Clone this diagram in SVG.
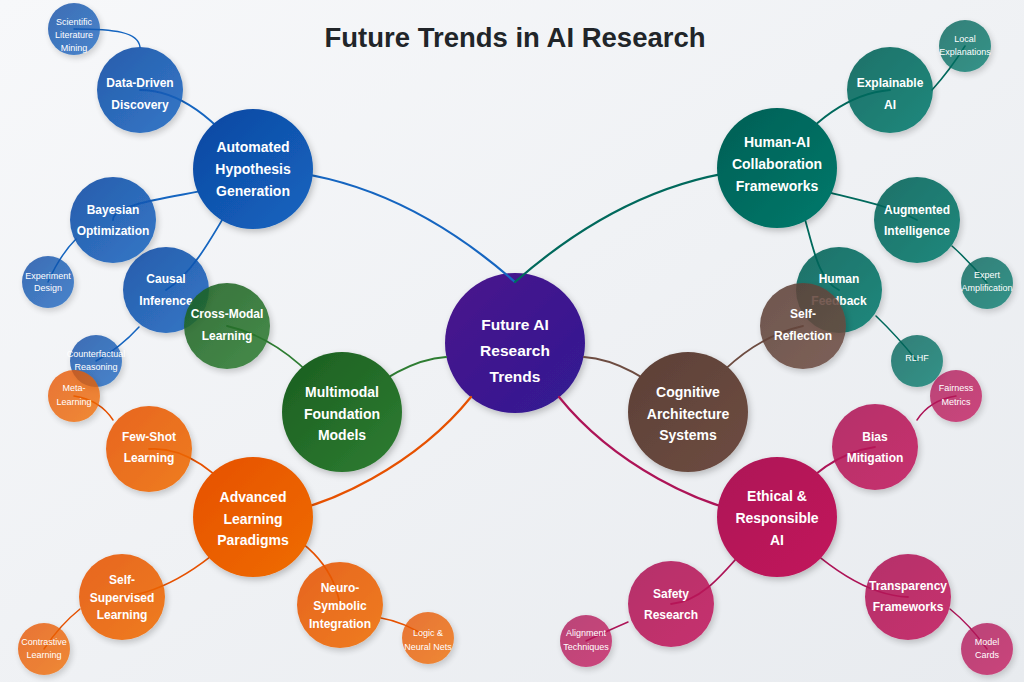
<svg xmlns="http://www.w3.org/2000/svg" width="1024" height="682" viewBox="0 0 1024 682">
<defs>
<linearGradient id="bg" x1="0" y1="0" x2="1" y2="1"><stop offset="0" stop-color="#f7f8fa"/><stop offset="1" stop-color="#e8ebef"/></linearGradient>
<linearGradient id="gPurple" x1="0" y1="0" x2="1" y2="1"><stop offset="0" stop-color="#4A148C"/><stop offset="1" stop-color="#311B92"/></linearGradient>
<linearGradient id="gBlue" x1="0" y1="0" x2="1" y2="1"><stop offset="0" stop-color="#0D47A1"/><stop offset="1" stop-color="#1565C0"/></linearGradient>
<linearGradient id="gTeal" x1="0" y1="0" x2="1" y2="1"><stop offset="0" stop-color="#005f55"/><stop offset="1" stop-color="#00796B"/></linearGradient>
<linearGradient id="gGreen" x1="0" y1="0" x2="1" y2="1"><stop offset="0" stop-color="#1B5E20"/><stop offset="1" stop-color="#2E7D32"/></linearGradient>
<linearGradient id="gBrown" x1="0" y1="0" x2="1" y2="1"><stop offset="0" stop-color="#5D4037"/><stop offset="1" stop-color="#6D4C41"/></linearGradient>
<linearGradient id="gOrange" x1="0" y1="0" x2="1" y2="1"><stop offset="0" stop-color="#E65100"/><stop offset="1" stop-color="#EF6C00"/></linearGradient>
<linearGradient id="gMagenta" x1="0" y1="0" x2="1" y2="1"><stop offset="0" stop-color="#AD1457"/><stop offset="1" stop-color="#C2185B"/></linearGradient>
<filter id="sh" x="-30%" y="-30%" width="160%" height="160%"><feDropShadow dx="2" dy="3" stdDeviation="3" flood-color="#000" flood-opacity="0.22"/></filter>
</defs>
<style>
text{font-family:"Liberation Sans",Arial,Helvetica,sans-serif;text-anchor:middle;fill:#fff}
.title{font-size:27.5px;font-weight:bold;fill:#212529}
.tc{font-size:15.5px;font-weight:bold}
.tm{font-size:14px;font-weight:bold}
.ts{font-size:12px;font-weight:bold}
.tl{font-size:9px}
circle{filter:url(#sh)}
.sub{opacity:0.87}
.leaf{opacity:0.78}
#links path{fill:none;stroke-linecap:round}
.lm{stroke-width:2.2}
.ls{stroke-width:1.8}
.ll{stroke-width:1.5}
.cb{stroke:#1565C0}.ct{stroke:#00695C}.cg{stroke:#2E7D32}.cbr{stroke:#6D4C41}.co{stroke:#E65100}.cm{stroke:#AD1457}
</style>
<rect width="1024" height="682" fill="url(#bg)"/>
<text class="title" x="515" y="47">Future Trends in AI Research</text>

<g id="n-center"><circle cx="515" cy="343" r="70" fill="url(#gPurple)"/><text class="tc"><tspan x="515" y="330">Future AI</tspan><tspan x="515" y="356">Research</tspan><tspan x="515" y="382">Trends</tspan></text></g>

<g id="links">
<path class="lm cb" d="M515,282 Q390,172 253,169"/>
<path class="lm ct" d="M515,282 Q640,172 777,168"/>
<path class="lm cg" d="M446,357 Q400,360 342,412"/>
<path class="lm cbr" d="M584,357 Q630,360 688,412"/>
<path class="lm co" d="M471,397 C420,460 330,512 253,517"/>
<path class="lm cm" d="M559,397 C610,460 700,512 777,517"/>
<path class="ls cb" d="M253,169 Q196.5,90 140,90"/>
<path class="ls cb" d="M253,169 C253,194.5 113,194.5 113,220"/>
<path class="ls cb" d="M253,169 C225,210 200,270 166,290"/>
<path class="ls cg" d="M342,412 Q290,340 227,326"/>
<path class="ls co" d="M253,517 Q200,445 149,449"/>
<path class="ls co" d="M253,517 Q185,590 122,597"/>
<path class="ls co" d="M253,517 Q330,545 340,605"/>
<path class="ls ct" d="M777,168 Q830,95 890,90"/>
<path class="ls ct" d="M777,168 C800,195 870,195 917,220"/>
<path class="ls ct" d="M777,168 C812,190 805,275 839,290"/>
<path class="ls cbr" d="M688,412 Q740,340 803,326"/>
<path class="ls cm" d="M777,517 Q820,455 875,447"/>
<path class="ls cm" d="M777,517 C740,545 715,600 671,604"/>
<path class="ls cm" d="M777,517 Q850,595 908,597"/>
<path class="ll cb" d="M140,47 C138,32 115,29 74,29"/>
<path class="ll cb" d="M76,239 Q60,255 48,282"/>
<path class="ll cb" d="M139,327 Q120,348 96,361"/>
<path class="ll co" d="M113,420 Q100,400 74,396"/>
<path class="ll co" d="M80,609 Q60,625 44,649"/>
<path class="ll co" d="M381,618 Q405,622 428,638"/>
<path class="ll ct" d="M932,90 Q950,70 965,46"/>
<path class="ll ct" d="M952,246 Q970,262 987,283"/>
<path class="ll ct" d="M876,316 Q897,336 917,361"/>
<path class="ll cm" d="M917,420 Q930,400 956,396"/>
<path class="ll cm" d="M628,622 Q605,632 586,641"/>
<path class="ll cm" d="M950,609 Q970,625 987,649"/>
</g>

<g id="n-automated"><circle cx="253" cy="169" r="60" fill="url(#gBlue)"/><text class="tm"><tspan x="253" y="152">Automated</tspan><tspan x="253" y="174">Hypothesis</tspan><tspan x="253" y="196">Generation</tspan></text></g>
<g id="n-humanai"><circle cx="777" cy="168" r="60" fill="url(#gTeal)"/><text class="tm"><tspan x="777" y="147">Human-AI</tspan><tspan x="777" y="169">Collaboration</tspan><tspan x="777" y="191">Frameworks</tspan></text></g>
<g id="n-multimodal"><circle cx="342" cy="412" r="60" fill="url(#gGreen)"/><text class="tm"><tspan x="342" y="397">Multimodal</tspan><tspan x="342" y="418.5">Foundation</tspan><tspan x="342" y="440">Models</tspan></text></g>
<g id="n-cognitive"><circle cx="688" cy="412" r="60" fill="url(#gBrown)"/><text class="tm"><tspan x="688" y="397">Cognitive</tspan><tspan x="688" y="418.5">Architecture</tspan><tspan x="688" y="440">Systems</tspan></text></g>
<g id="n-advanced"><circle cx="253" cy="517" r="60" fill="url(#gOrange)"/><text class="tm"><tspan x="253" y="502">Advanced</tspan><tspan x="253" y="523.5">Learning</tspan><tspan x="253" y="545">Paradigms</tspan></text></g>
<g id="n-ethical"><circle cx="777" cy="517" r="60" fill="url(#gMagenta)"/><text class="tm"><tspan x="777" y="501">Ethical &amp;</tspan><tspan x="777" y="523">Responsible</tspan><tspan x="777" y="544.5">AI</tspan></text></g>

<g id="n-datadriven"><circle class="sub" cx="140" cy="90" r="43" fill="url(#gBlue)"/><text class="ts"><tspan x="140" y="87">Data-Driven</tspan><tspan x="140" y="109">Discovery</tspan></text></g>
<g id="n-bayesian"><circle class="sub" cx="113" cy="220" r="43" fill="url(#gBlue)"/><text class="ts"><tspan x="113" y="213.5">Bayesian</tspan><tspan x="113" y="235">Optimization</tspan></text></g>
<g id="n-causal"><circle class="sub" cx="166" cy="290" r="43" fill="url(#gBlue)"/><text class="ts"><tspan x="166" y="283">Causal</tspan><tspan x="166" y="305">Inference</tspan></text></g>
<g id="n-explainable"><circle class="sub" cx="890" cy="90" r="43" fill="url(#gTeal)"/><text class="ts"><tspan x="890" y="87">Explainable</tspan><tspan x="890" y="108.5">AI</tspan></text></g>
<g id="n-augmented"><circle class="sub" cx="917" cy="220" r="43" fill="url(#gTeal)"/><text class="ts"><tspan x="917" y="213.5">Augmented</tspan><tspan x="917" y="235">Intelligence</tspan></text></g>
<g id="n-humanfeedback"><circle class="sub" cx="839" cy="290" r="43" fill="url(#gTeal)"/><text class="ts"><tspan x="839" y="283">Human</tspan><tspan x="839" y="305">Feedback</tspan></text></g>
<g id="n-crossmodal"><circle class="sub" cx="227" cy="326" r="43" fill="url(#gGreen)"/><text class="ts"><tspan x="227" y="318">Cross-Modal</tspan><tspan x="227" y="339.5">Learning</tspan></text></g>
<g id="n-selfreflection"><circle class="sub" cx="803" cy="326" r="43" fill="url(#gBrown)"/><text class="ts"><tspan x="803" y="318">Self-</tspan><tspan x="803" y="339.5">Reflection</tspan></text></g>
<g id="n-fewshot"><circle class="sub" cx="149" cy="449" r="43" fill="url(#gOrange)"/><text class="ts"><tspan x="149" y="440.7">Few-Shot</tspan><tspan x="149" y="461.7">Learning</tspan></text></g>
<g id="n-selfsupervised"><circle class="sub" cx="122" cy="597" r="43" fill="url(#gOrange)"/><text class="ts"><tspan x="122" y="584">Self-</tspan><tspan x="122" y="601.7">Supervised</tspan><tspan x="122" y="619">Learning</tspan></text></g>
<g id="n-neurosymbolic"><circle class="sub" cx="340" cy="605" r="43" fill="url(#gOrange)"/><text class="ts"><tspan x="340" y="592">Neuro-</tspan><tspan x="340" y="609.7">Symbolic</tspan><tspan x="340" y="627.5">Integration</tspan></text></g>
<g id="n-bias"><circle class="sub" cx="875" cy="447" r="43" fill="url(#gMagenta)"/><text class="ts"><tspan x="875" y="440.7">Bias</tspan><tspan x="875" y="461.7">Mitigation</tspan></text></g>
<g id="n-safety"><circle class="sub" cx="671" cy="604" r="43" fill="url(#gMagenta)"/><text class="ts"><tspan x="671" y="597.5">Safety</tspan><tspan x="671" y="618.5">Research</tspan></text></g>
<g id="n-transparency"><circle class="sub" cx="908" cy="597" r="43" fill="url(#gMagenta)"/><text class="ts"><tspan x="908" y="590">Transparency</tspan><tspan x="908" y="611">Frameworks</tspan></text></g>

<g id="n-scilit"><circle class="leaf" cx="74" cy="29" r="26" fill="url(#gBlue)"/><text class="tl"><tspan x="74" y="24.5">Scientific</tspan><tspan x="74" y="37.5">Literature</tspan><tspan x="74" y="50.5">Mining</tspan></text></g>
<g id="n-experiment"><circle class="leaf" cx="48" cy="282" r="26" fill="url(#gBlue)"/><text class="tl"><tspan x="48" y="278.5">Experiment</tspan><tspan x="48" y="291">Design</tspan></text></g>
<g id="n-counterfactual"><circle class="leaf" cx="96" cy="361" r="26" fill="url(#gBlue)"/><text class="tl"><tspan x="96" y="356.7">Counterfactual</tspan><tspan x="96" y="369.5">Reasoning</tspan></text></g>
<g id="n-local"><circle class="leaf" cx="965" cy="46" r="26" fill="url(#gTeal)"/><text class="tl"><tspan x="965" y="42">Local</tspan><tspan x="965" y="55">Explanations</tspan></text></g>
<g id="n-expert"><circle class="leaf" cx="987" cy="283" r="26" fill="url(#gTeal)"/><text class="tl"><tspan x="987" y="278">Expert</tspan><tspan x="987" y="291">Amplification</tspan></text></g>
<g id="n-rlhf"><circle class="leaf" cx="917" cy="361" r="26" fill="url(#gTeal)"/><text class="tl"><tspan x="917" y="361">RLHF</tspan></text></g>
<g id="n-meta"><circle class="leaf" cx="74" cy="396" r="26" fill="url(#gOrange)"/><text class="tl"><tspan x="74" y="391">Meta-</tspan><tspan x="74" y="404.5">Learning</tspan></text></g>
<g id="n-contrastive"><circle class="leaf" cx="44" cy="649" r="26" fill="url(#gOrange)"/><text class="tl"><tspan x="44" y="645">Contrastive</tspan><tspan x="44" y="657.5">Learning</tspan></text></g>
<g id="n-logic"><circle class="leaf" cx="428" cy="638" r="26" fill="url(#gOrange)"/><text class="tl"><tspan x="428" y="636">Logic &amp;</tspan><tspan x="428" y="649.5">Neural Nets</tspan></text></g>
<g id="n-fairness"><circle class="leaf" cx="956" cy="396" r="26" fill="url(#gMagenta)"/><text class="tl"><tspan x="956" y="391">Fairness</tspan><tspan x="956" y="405">Metrics</tspan></text></g>
<g id="n-alignment"><circle class="leaf" cx="586" cy="641" r="26" fill="url(#gMagenta)"/><text class="tl"><tspan x="586" y="636">Alignment</tspan><tspan x="586" y="650">Techniques</tspan></text></g>
<g id="n-modelcards"><circle class="leaf" cx="987" cy="649" r="26" fill="url(#gMagenta)"/><text class="tl"><tspan x="987" y="645">Model</tspan><tspan x="987" y="657.5">Cards</tspan></text></g>
</svg>
